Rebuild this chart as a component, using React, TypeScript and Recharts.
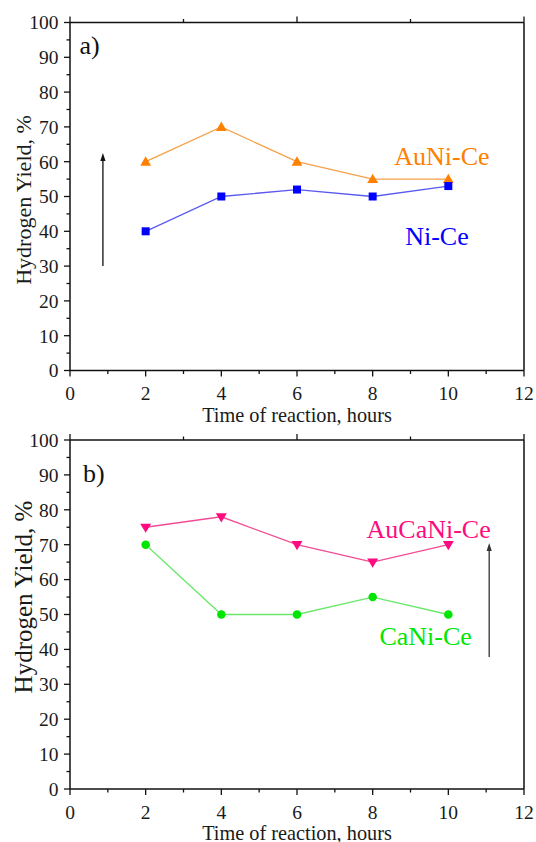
import React from 'react';
import { LineChart, Line, XAxis, YAxis, ReferenceLine, ReferenceDot } from 'recharts';

// ---- data ----
const hours = [2, 4, 6, 8, 10];
const auNiCe = [60, 70, 60, 55, 55];
const niCe = [40, 50, 52, 50, 53];
const auCaNiCe = [75, 78, 70, 65, 70];
const caNiCe = [70, 50, 50, 55, 50];

const xTicks = [0, 1, 2, 3, 4, 5, 6, 7, 8, 9, 10, 11, 12];
const yTicks = [0, 5, 10, 15, 20, 25, 30, 35, 40, 45, 50, 55, 60, 65, 70, 75, 80, 85, 90, 95, 100];

const xTitle = 'Time of reaction, hours';
const yTitle = 'Hydrogen Yield, %';

const dataA = hours.map((h, i) => ({ h, auNiCe: auNiCe[i], niCe: niCe[i] }));
const dataB = hours.map((h, i) => ({ h, auCaNiCe: auCaNiCe[i], caNiCe: caNiCe[i] }));

// ---- styling ----
const FONT = '"Liberation Serif", "Times New Roman", Times, serif';
const TS = 6;
const TM = 2;
const AX = '#111';

type Orient = 'left' | 'right' | 'top' | 'bottom';

function makeTick(orient: Orient, showLabel: boolean, majorStep: number) {
  return (props: any) => {
    const { x, y, payload } = props;
    const v = payload.value;
    const r = v / majorStep;
    const major = Math.abs(r - Math.round(r)) < 1e-6;
    const len = major ? 6 : 3.5;
    let line: any = null;
    let text: any = null;
    const tStyle = { fontFamily: FONT, fontSize: 19.5, fill: '#1a1a1a' };
    if (orient === 'left') {
      const ax = x + TS + TM;
      line = <line x1={ax - len} x2={ax} y1={y} y2={y} stroke={AX} strokeWidth={1.3} />;
      if (showLabel && major)
        text = (
          <text x={ax - 11.5} y={y} dy="0.35em" textAnchor="end" {...tStyle}>
            {v}
          </text>
        );
    } else if (orient === 'right') {
      const ax = x - TS - TM;
      line = <line x1={ax} x2={ax + len * 0.7} y1={y} y2={y} stroke={AX} strokeWidth={1.3} />;
    } else if (orient === 'top') {
      const ay = y + TS + TM;
      line = <line x1={x} x2={x} y1={ay - len} y2={ay} stroke={AX} strokeWidth={1.3} />;
    } else {
      const ay = y - TS - TM;
      line = <line x1={x} x2={x} y1={ay} y2={ay + len} stroke={AX} strokeWidth={1.3} />;
      if (showLabel && major)
        text = (
          <text x={x} y={ay + 29.5} textAnchor="middle" {...tStyle}>
            {v}
          </text>
        );
    }
    return (
      <g>
        {line}
        {text}
      </g>
    );
  };
}

const triUp = (color: string) => (p: any) => {
  if (p.cx == null) return <g key={p.key} />;
  const { cx, cy } = p;
  return <path key={p.key} d={`M${cx},${cy - 5.4} L${cx + 5.4},${cy + 4} L${cx - 5.4},${cy + 4} Z`} fill={color} />;
};
const triDown = (color: string) => (p: any) => {
  if (p.cx == null) return <g key={p.key} />;
  const { cx, cy } = p;
  return <path key={p.key} d={`M${cx},${cy + 5.6} L${cx + 5.5},${cy - 3.6} L${cx - 5.5},${cy - 3.6} Z`} fill={color} />;
};
const square = (color: string) => (p: any) => {
  if (p.cx == null) return <g key={p.key} />;
  return <rect key={p.key} x={p.cx - 4} y={p.cy - 4} width={8} height={8} fill={color} />;
};
const circle = (color: string) => (p: any) => {
  if (p.cx == null) return <g key={p.key} />;
  return <circle key={p.key} cx={p.cx} cy={p.cy} r={4.3} fill={color} />;
};

const arrow = (color: string) => (props: any) => {
  const { x1, y1, x2, y2 } = props;
  const dx = x2 - x1;
  const dy = y2 - y1;
  const L = Math.hypot(dx, dy) || 1;
  const ux = dx / L;
  const uy = dy / L;
  const hl = 8;
  const hw = 2.6;
  const bx = x2 - ux * hl;
  const by = y2 - uy * hl;
  const px = -uy;
  const py = ux;
  return (
    <g>
      <line x1={x1} y1={y1} x2={bx} y2={by} stroke={color} strokeWidth={1.3} />
      <path d={`M${x2},${y2} L${bx + px * hw},${by + py * hw} L${bx - px * hw},${by - py * hw} Z`} fill={color} />
    </g>
  );
};

const yLabel = (fontSize: number, dyCenter: number) => (p: any) => {
  const vb = p.viewBox || {};
  const cx = vb.x + 13;
  const cy = vb.y + vb.height / 2 + dyCenter;
  return (
    <text
      transform={`translate(${cx}, ${cy}) rotate(-90)`}
      textAnchor="middle"
      dy="0.35em"
      fontFamily={FONT}
      fontSize={fontSize}
      fill="#1a1a1a"
    >
      {yTitle}
    </text>
  );
};

const xLabel = (baseline: number, fontSize: number) => (p: any) => {
  const vb = p.viewBox || {};
  return (
    <text x={vb.x + vb.width / 2} y={vb.y + baseline} textAnchor="middle" fontFamily={FONT} fontSize={fontSize} fill="#1a1a1a">
      {xTitle}
    </text>
  );
};

const noShape = () => <g />;

const seriesLabel = (value: string, color: string) => ({
  value,
  position: 'center' as const,
  fill: color,
  fontSize: 26,
  fontFamily: FONT,
});

export default function App() {
  return (
    <div style={{ position: 'absolute', left: 0, top: 0, width: 536, height: 842, background: '#fff' }}>
      <div style={{ position: 'absolute', left: 0, top: 0 }}>
        <LineChart width={536} height={430} data={dataA} margin={{ top: 12.5, right: 4, bottom: 7.5, left: 10 }}>
          <XAxis
            xAxisId={0}
            dataKey="h"
            type="number"
            domain={[0, 12]}
            ticks={xTicks}
            interval={0}
            height={52}
            tickSize={TS}
            tickMargin={TM}
            tickLine={false}
            axisLine={{ stroke: AX, strokeWidth: 1.5 }}
            tick={makeTick('bottom', true, 2)}
            label={xLabel(51.5, 20.3)}
          />
          <XAxis
            xAxisId="t"
            orientation="top"
            type="number"
            domain={[0, 12]}
            ticks={xTicks}
            interval={0}
            height={10}
            tickSize={TS}
            tickMargin={TM}
            tickLine={false}
            axisLine={{ stroke: AX, strokeWidth: 1.5 }}
            tick={makeTick('top', false, 2)}
          />
          <YAxis
            yAxisId={0}
            type="number"
            domain={[0, 100]}
            ticks={yTicks}
            interval={0}
            width={60}
            tickSize={TS}
            tickMargin={TM}
            tickLine={false}
            axisLine={{ stroke: AX, strokeWidth: 1.5 }}
            tick={makeTick('left', true, 10)}
            label={yLabel(22, 3.5)}
          />
          <YAxis
            yAxisId="r"
            orientation="right"
            type="number"
            domain={[0, 100]}
            ticks={yTicks}
            interval={0}
            width={8}
            tickSize={TS}
            tickMargin={TM}
            tickLine={false}
            axisLine={{ stroke: AX, strokeWidth: 1.5 }}
            tick={makeTick('right', false, 10)}
          />
          <Line
            dataKey="auNiCe"
            type="linear"
            stroke="#F5A04A"
            strokeWidth={1.3}
            dot={triUp('#FF8000')}
            activeDot={false}
            isAnimationActive={false}
          />
          <Line
            dataKey="niCe"
            type="linear"
            stroke="#5A5AF0"
            strokeWidth={1.3}
            dot={square('#0000FF')}
            activeDot={false}
            isAnimationActive={false}
          />
          <ReferenceLine
            segment={[
              { x: 0.87, y: 30 },
              { x: 0.87, y: 62.5 },
            ]}
            shape={arrow('#111')}
          />
          <ReferenceDot x={0.52} y={93.6} r={1} shape={noShape} label={seriesLabel('a)', '#111')} />
          <ReferenceDot x={9.83} y={61.7} r={1} shape={noShape} label={seriesLabel('AuNi-Ce', '#FF8000')} />
          <ReferenceDot x={9.7} y={38.7} r={1} shape={noShape} label={seriesLabel('Ni-Ce', '#0000FF')} />
        </LineChart>
      </div>
      <div style={{ position: 'absolute', left: 0, top: 420 }}>
        <LineChart width={536} height={422} data={dataB} margin={{ top: 10, right: 4, bottom: 2, left: 10 }}>
          <XAxis
            xAxisId={0}
            dataKey="h"
            type="number"
            domain={[0, 12]}
            ticks={xTicks}
            interval={0}
            height={51}
            tickSize={TS}
            tickMargin={TM}
            tickLine={false}
            axisLine={{ stroke: AX, strokeWidth: 1.5 }}
            tick={makeTick('bottom', true, 2)}
            label={xLabel(50.5, 20.3)}
          />
          <XAxis
            xAxisId="t"
            orientation="top"
            type="number"
            domain={[0, 12]}
            ticks={xTicks}
            interval={0}
            height={10}
            tickSize={TS}
            tickMargin={TM}
            tickLine={false}
            axisLine={{ stroke: AX, strokeWidth: 1.5 }}
            tick={makeTick('top', false, 2)}
          />
          <YAxis
            yAxisId={0}
            type="number"
            domain={[0, 100]}
            ticks={yTicks}
            interval={0}
            width={60}
            tickSize={TS}
            tickMargin={TM}
            tickLine={false}
            axisLine={{ stroke: AX, strokeWidth: 1.5 }}
            tick={makeTick('left', true, 10)}
            label={yLabel(25, -17.5)}
          />
          <YAxis
            yAxisId="r"
            orientation="right"
            type="number"
            domain={[0, 100]}
            ticks={yTicks}
            interval={0}
            width={8}
            tickSize={TS}
            tickMargin={TM}
            tickLine={false}
            axisLine={{ stroke: AX, strokeWidth: 1.5 }}
            tick={makeTick('right', false, 10)}
          />
          <Line
            dataKey="auCaNiCe"
            type="linear"
            stroke="#F24A93"
            strokeWidth={1.3}
            dot={triDown('#FF0A80')}
            activeDot={false}
            isAnimationActive={false}
          />
          <Line
            dataKey="caNiCe"
            type="linear"
            stroke="#6AE86A"
            strokeWidth={1.3}
            dot={circle('#00E600')}
            activeDot={false}
            isAnimationActive={false}
          />
          <ReferenceLine
            segment={[
              { x: 11.08, y: 37.8 },
              { x: 11.08, y: 70.5 },
            ]}
            shape={arrow('#333')}
          />
          <ReferenceDot x={0.63} y={90.6} r={1} shape={noShape} label={seriesLabel('b)', '#111')} />
          <ReferenceDot x={9.48} y={74.6} r={1} shape={noShape} label={seriesLabel('AuCaNi-Ce', '#FF0A80')} />
          <ReferenceDot x={9.4} y={43.9} r={1} shape={noShape} label={seriesLabel('CaNi-Ce', '#00E600')} />
        </LineChart>
      </div>
    </div>
  );
}
